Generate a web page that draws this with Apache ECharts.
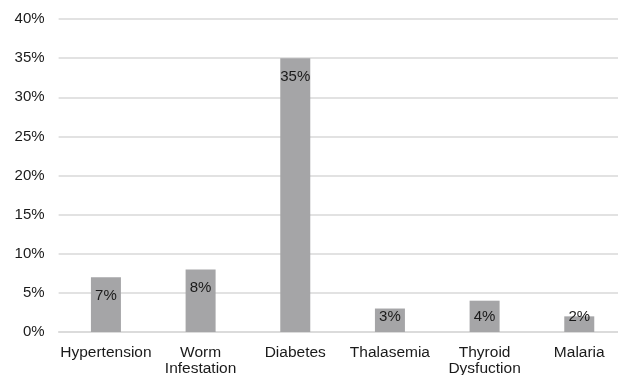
<!DOCTYPE html>
<html>
<head>
<meta charset="utf-8">
<script src="https://cdn.jsdelivr.net/npm/echarts@6/dist/echarts.min.js"></script>
<style>
  html, body { margin: 0; padding: 0; background: #fff; }
  #chart { width: 618px; height: 375px; }
</style>
</head>
<body>
<div id="chart"></div>
<script>
// Prevalence of conditions (% of respondents)
const categories = ['Hypertension', 'Worm\nInfestation', 'Diabetes', 'Thalasemia', 'Thyroid\nDysfuction', 'Malaria'];
const percentages = [7, 8, 35, 3, 4, 2];
const yTicks = { min: 0, max: 40, interval: 5 };

const textColor = '#1a1a1a';
const font = 'Liberation Sans, Arial, sans-serif';

// Short bars carry their label near the base, taller ones just inside the top
const barData = percentages.map(v => ({
  value: v,
  label: v < 5
    ? { position: 'insideBottom', distance: 8 }
    : { position: 'insideTop', distance: 11 }
}));

const chart = echarts.init(document.getElementById('chart'));
chart.setOption({
  animation: false,
  grid: {
    left: 58.6, width: 568, top: 19, bottom: 43,
    containLabel: false, outerBoundsMode: 'none'
  },
  xAxis: {
    type: 'category',
    data: categories,
    axisLine: { lineStyle: { color: '#d9d9d9', width: 1.5 } },
    axisTick: { show: false },
    axisLabel: {
      color: textColor, fontSize: 15.5, fontFamily: font,
      margin: 12, lineHeight: 16.5, interval: 0
    }
  },
  yAxis: {
    type: 'value',
    min: yTicks.min, max: yTicks.max, interval: yTicks.interval,
    axisLine: { show: false },
    axisTick: { show: false },
    splitLine: { lineStyle: { color: '#d9d9d9', width: 1.5 } },
    axisLabel: {
      color: textColor, fontSize: 15, fontFamily: font, margin: 14,
      formatter: '{value}%'
    }
  },
  series: [{
    type: 'bar',
    data: barData,
    barWidth: 30,
    itemStyle: { color: '#a5a5a7' },
    label: {
      show: true,
      color: textColor, fontSize: 15, fontFamily: font,
      formatter: '{c}%'
    }
  }]
});
</script>
</body>
</html>
